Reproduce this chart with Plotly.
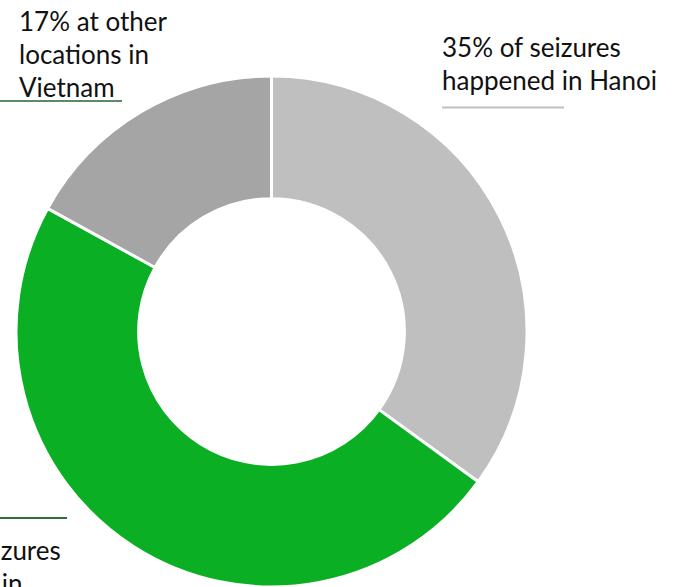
import plotly.graph_objects as go

# Share of seizures by location
locations = ["Hanoi", "Ho Chi Minh City", "Other locations in Vietnam"]
shares = [35, 48, 17]
slice_colors = ["#BFBFBF", "#0AAF24", "#A5A5A5"]

W, H = 683, 587


def px(x):
    return x / W


def py(y):
    return 1 - y / H


fig = go.Figure(
    go.Pie(
        labels=locations,
        values=shares,
        sort=False,
        direction="clockwise",
        rotation=0,
        hole=0.52,
        marker=dict(colors=slice_colors, line=dict(color="white", width=3)),
        textinfo="none",
        hoverinfo="label+percent",
        showlegend=False,
        domain=dict(x=[px(15), px(528)], y=[0, 511 / H]),
    )
)

font = dict(family="Lato, 'Open Sans', sans-serif", size=26, color="#111111")

label_lines = [
    ([f"{shares[2]}% at other", "locations in", "Vietnam"], 17, 3),
    ([f"{shares[0]}% of seizures", "happened in Hanoi"], 440, 29),
    ([f"{shares[1]}% of seizures", "happened in", "Ho Chi Minh City"], -120, 532),
]

annotations = []
for lines, x0, y0 in label_lines:
    for i, line in enumerate(lines):
        annotations.append(
            dict(
                text=line,
                x=px(x0),
                y=py(y0 + 33 * i),
                xref="paper",
                yref="paper",
                xanchor="left",
                yanchor="top",
                showarrow=False,
                font=font,
                align="left",
            )
        )

shapes = [
    dict(type="line", xref="paper", yref="paper", x0=px(0), x1=px(122),
         y0=py(101), y1=py(101), line=dict(color="#5B8A66", width=2)),
    dict(type="line", xref="paper", yref="paper", x0=px(442), x1=px(564),
         y0=py(107.5), y1=py(107.5), line=dict(color="#BFBFBF", width=2)),
    dict(type="line", xref="paper", yref="paper", x0=px(0), x1=px(67),
         y0=py(518), y1=py(518), line=dict(color="#2F6F3A", width=2)),
]

fig.update_layout(
    width=W,
    height=H,
    margin=dict(l=0, r=0, t=0, b=0),
    paper_bgcolor="white",
    plot_bgcolor="white",
    annotations=annotations,
    shapes=shapes,
)

fig.write_html("out.html")
